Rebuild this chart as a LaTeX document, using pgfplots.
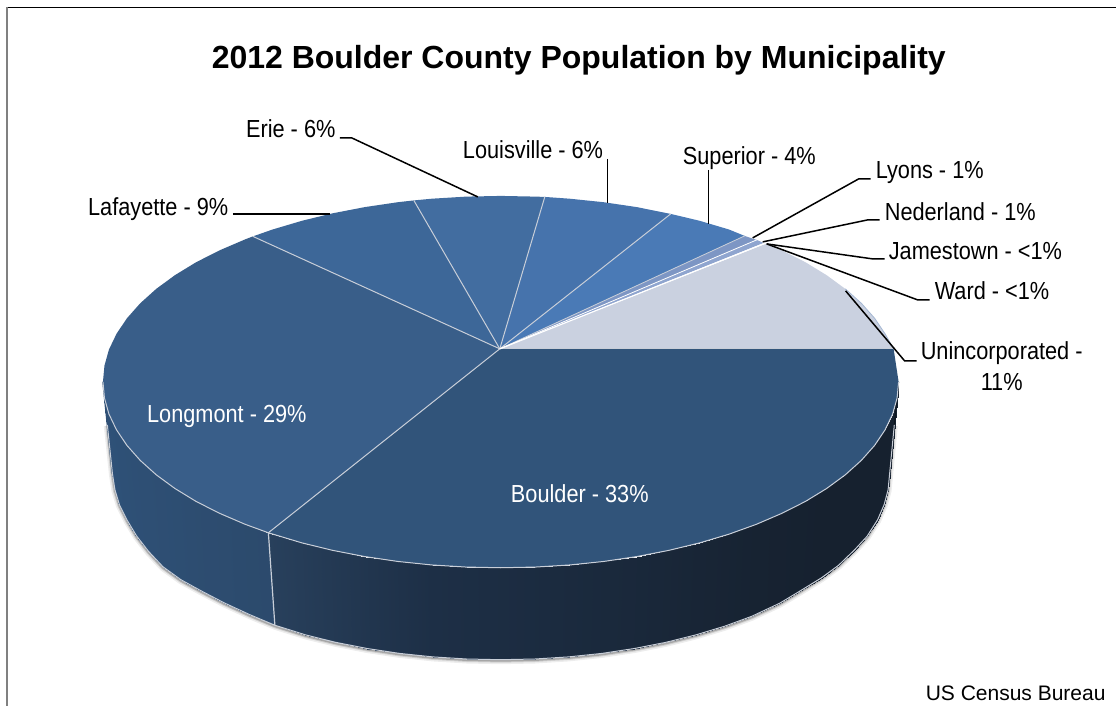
\documentclass[border=0pt]{standalone}
\usepackage{pgfplots}
\usepackage{pgfplotstable}
\usepackage{fontspec}
\pgfplotsset{compat=1.18}
\setmainfont{Liberation Sans}
\newfontfamily\lab[FakeStretch=0.88]{Liberation Sans}

\definecolor{boulder}{HTML}{31547A}
\definecolor{longmont}{HTML}{395E89}
\definecolor{lafayette}{HTML}{3D6798}
\definecolor{erie}{HTML}{426DA0}
\definecolor{louisville}{HTML}{4673AC}
\definecolor{superior}{HTML}{4A7AB6}
\definecolor{lyons}{HTML}{7D96C4}
\definecolor{nederland}{HTML}{8FA5CF}
\definecolor{uninc}{HTML}{CAD1E0}
\definecolor{rim}{HTML}{C8CED8}

\tikzset{
    lab/.style={anchor=base west, inner sep=0pt, font=\lab\fontsize{24.7}{28}\selectfont},
    leader/.style={black, line width=1.5pt},
}

% outer edge of the side wall (pixels)
\pgfplotstableread{
x y
107.4 425
112.5 474
115 490
119.5 505
127.5 521
136.5 536
148.5 551.5
163 567
181 580
201 591
224 603
250 615
275 625.5
305.5 635.1
335.7 642.6
367.3 648.8
399.8 653.7
433.1 657.2
466.9 659.3
501 660
535.1 659.3
568.9 657.2
602.2 653.7
634.7 648.8
666.3 642.6
696.5 635.1
725.3 626.4
752.3 616.5
780 603.5
800 591.5
822 578
839 565.5
855 550
867.5 536.5
878 520
884.5 505
888.5 490
890 474
894.7 425
}\bottomrim

% front edge of the top face
\pgfplotstableread{
x y
103 382
104.5 398.2
109 414.3
116.6 430.1
127 445.6
140.3 460.6
156.3 475
175 488.7
196.1 501.6
219.6 513.5
245.2 524.5
268.5 533
302 543.1
332.8 550.6
364.9 556.8
398 561.7
431.9 565.2
466.3 567.3
501 568
535.7 567.3
570.1 565.2
604 561.7
637.1 556.8
669.2 550.6
700 543.1
729.3 534.4
756.8 524.5
782.4 513.5
805.9 501.6
827 488.7
845.7 475
861.7 460.6
875 445.6
885.4 430.1
893 414.3
897.5 398.2
899 382
}\toprim

\pgfplotstableread{
x y c
103 382 1
104.5 398.2 .99
109 414.3 .98
116.6 430.1 .97
127 445.6 .96
140.3 460.6 .95
156.3 475 .94
175 488.7 .93
196.1 501.6 .91
219.6 513.5 .90
245.2 524.5 .88
268.5 533 .87
112.5 474 1
115 490 .99
119.5 505 .98
127.5 521 .97
136.5 536 .96
148.5 551.5 .95
163 567 .94
181 580 .93
201 591 .91
224 603 .90
250 615 .88
275 625.5 .87
}\sidelongmont

\pgfplotstableread{
x y c
268.5 533 .70
302 543.1 .66
332.8 550.6 .62
364.9 556.8 .58
398 561.7 .54
431.9 565.2 .50
466.3 567.3 .46
501 568 .42
535.7 567.3 .38
570.1 565.2 .33
604 561.7 .29
637.1 556.8 .25
669.2 550.6 .20
700 543.1 .15
729.3 534.4 .11
756.8 524.5 .07
782.4 513.5 .04
805.9 501.6 .02
827 488.7 0
845.7 475 0
861.7 460.6 0
875 445.6 0
885.4 430.1 0
893 414.3 0
897.5 398.2 0
899 382 0
275 625.5 .70
305.5 635.1 .66
335.7 642.6 .62
367.3 648.8 .58
399.8 653.7 .54
433.1 657.2 .50
466.9 659.3 .46
501 660 .42
535.1 659.3 .38
568.9 657.2 .33
602.2 653.7 .29
634.7 648.8 .25
666.3 642.6 .20
696.5 635.1 .15
725.3 626.4 .11
752.3 616.5 .07
780 603.5 .04
800 591.5 .02
822 578 0
839 565.5 0
855 550 0
867.5 536.5 0
878 520 0
884.5 505 0
888.5 490 0
890 474 0
}\sideboulder

\begin{document}
\begin{tikzpicture}
\begin{axis}[
    scale only axis,
    width=1116pt, height=706pt,
    xmin=0, xmax=1116, ymin=0, ymax=706,
    y dir=reverse,
    hide axis,
    clip=false,
    point meta min=0, point meta max=1,
    colormap={side}{rgb255(0)=(22,33,47) rgb255(50)=(29,47,70) rgb255(70)=(40,64,92) rgb255(100)=(47,82,121)},
]
% keeps the page at the full picture size
\addplot[draw=none] coordinates {(0,0) (1116,706)};

% frame
\addplot[black, line width=1pt] coordinates {(7,7.5) (1116,7.5)};
\addplot[gray, line width=2pt] coordinates {(7,7) (7,706)};

% soft shadow below the wall
\addplot[black, opacity=.07, line width=7pt, yshift=-1pt] table {\bottomrim};
\addplot[black, opacity=.12, line width=4pt, yshift=-1pt] table {\bottomrim};
\addplot[black, opacity=.2, line width=2pt, yshift=-1pt] table {\bottomrim};

% side wall
\addplot[surf, shader=interp, mesh/rows=2, mesh/cols=12, point meta=explicit] table[meta=c] {\sidelongmont};
\addplot[surf, shader=interp, mesh/rows=2, mesh/cols=26, point meta=explicit] table[meta=c] {\sideboulder};
\addplot[color=longmont!85!black, line width=1.5pt] coordinates {(103,382) (112.5,474)};
\addplot[color=black!75!boulder, line width=1pt] coordinates {(899,382) (890,474)};
\addplot[rim, line width=1pt] table {\bottomrim};
\addplot[rim, line width=1.2pt] coordinates {(268.5,533) (275,625.5)};

% top face, one polygon per slice
\addplot[fill=boulder, draw=none] coordinates {(500,349) (894,349) (899,382) (897.5,398.2) (893,414.3) (885.4,430.1) (875,445.6) (861.7,460.6) (845.7,475) (827,488.7) (805.9,501.6) (782.4,513.5) (756.8,524.5) (729.3,534.4) (700,543.1) (669.2,550.6) (637.1,556.8) (604,561.7) (570.1,565.2) (535.7,567.3) (501,568) (466.3,567.3) (431.9,565.2) (398,561.7) (364.9,556.8) (332.8,550.6) (302,543.1) (268.5,533)};
\addplot[fill=longmont, draw=none] coordinates {(500,349) (268.5,533) (245.2,524.5) (219.6,513.5) (196.1,501.6) (175,488.7) (156.3,475) (140.3,460.6) (127,445.6) (116.6,430.1) (109,414.3) (104.5,398.2) (103,382) (104.5,365.8) (109,349.7) (116.6,333.9) (127,318.4) (140.3,303.4) (156.3,289) (175,275.3) (196.1,262.4) (219.6,250.5) (245.2,239.5) (253,236.5)};
\addplot[fill=lafayette, draw=none] coordinates {(500,349) (253,236.5) (272.7,229.6) (302,220.9) (332.8,213.4) (364.9,207.2) (398,202.3) (414,200.5)};
\addplot[fill=erie, draw=none] coordinates {(500,349) (414,200.5) (431.9,198.8) (466.3,196.7) (501,196) (535.7,196.7) (545,197)};
\addplot[fill=louisville, draw=none] coordinates {(500,349) (545,197) (570.1,198.8) (604,202.3) (637.1,207.2) (671,214)};
\addplot[fill=superior, draw=none] coordinates {(500,349) (671,214) (700,220.9) (729.3,229.6) (745,236)};
\addplot[fill=lyons, draw=none] coordinates {(500,349) (745,236) (757,240)};
\addplot[fill=nederland, draw=none] coordinates {(500,349) (757,240) (764,243)};
\addplot[fill=uninc, draw=none] coordinates {(500,349) (766,244) (782.4,250.5) (805.9,262.4) (827,275.3) (845.7,289) (861.7,303.4) (875,318.4) (885.4,333.9) (894,349)};

% slice borders and rim
\addplot[rim, line width=1pt] table {\toprim};
\addplot[rim, line width=1pt] coordinates {(500,349) (894,349)};
\addplot[rim, line width=1pt] coordinates {(500,349) (268.5,533)};
\addplot[rim, line width=1pt] coordinates {(500,349) (253,236.5)};
\addplot[rim, line width=1pt] coordinates {(500,349) (414,200.5)};
\addplot[rim, line width=1pt] coordinates {(500,349) (545,197)};
\addplot[rim, line width=1pt] coordinates {(500,349) (671,214)};
\addplot[rim, line width=.8pt] coordinates {(500,349) (745,236)};
\addplot[white, line width=.8pt] coordinates {(500,349) (757,240)};
\addplot[white, line width=1.2pt] coordinates {(500,349) (765,243.5)};
\addplot[color=uninc!70!superior, line width=.8pt] coordinates {(845.7,289) (861.7,303.4) (875,318.4) (885.4,333.9) (894,349)};

% leader lines
\addplot[leader] coordinates {(233,214) (330,214)};
\addplot[leader] coordinates {(340,138) (352,138) (478,197)};
\addplot[leader] coordinates {(608,159) (608,203)};
\addplot[leader] coordinates {(709,170) (709,224)};
\addplot[leader] coordinates {(753,238) (859,179) (871,179)};
\addplot[leader] coordinates {(763,242) (868,220) (880,220)};
\addplot[leader] coordinates {(767,244) (873,259) (885,259)};
\addplot[leader] coordinates {(767,244) (918,300) (930,300)};
\addplot[leader] coordinates {(846,291) (905,361) (917,361)};

% text
\node[anchor=base, inner sep=0pt, font=\bfseries\fontsize{32}{36}\selectfont] at (axis cs:579,69) {2012 Boulder County Population by Municipality};
\node[lab] at (axis cs:246,138) {Erie - 6\%};
\node[lab] at (axis cs:88,216) {Lafayette - 9\%};
\node[lab] at (axis cs:463,159) {Louisville - 6\%};
\node[lab] at (axis cs:683,165) {Superior - 4\%};
\node[lab] at (axis cs:876,179) {Lyons - 1\%};
\node[lab] at (axis cs:885,221) {Nederland - 1\%};
\node[lab] at (axis cs:889,260) {Jamestown - <1\%};
\node[lab] at (axis cs:935,300) {Ward - <1\%};
\node[lab] at (axis cs:921,360) {Unincorporated -};
\node[lab] at (axis cs:981,391) {11\%};
\node[lab, white] at (axis cs:147,423) {Longmont - 29\%};
\node[lab, white] at (axis cs:511,503) {Boulder - 33\%};
\node[anchor=base west, inner sep=0pt, font=\fontsize{21}{24}\selectfont] at (axis cs:926,701) {US Census Bureau};
\end{axis}
\end{tikzpicture}
\end{document}
